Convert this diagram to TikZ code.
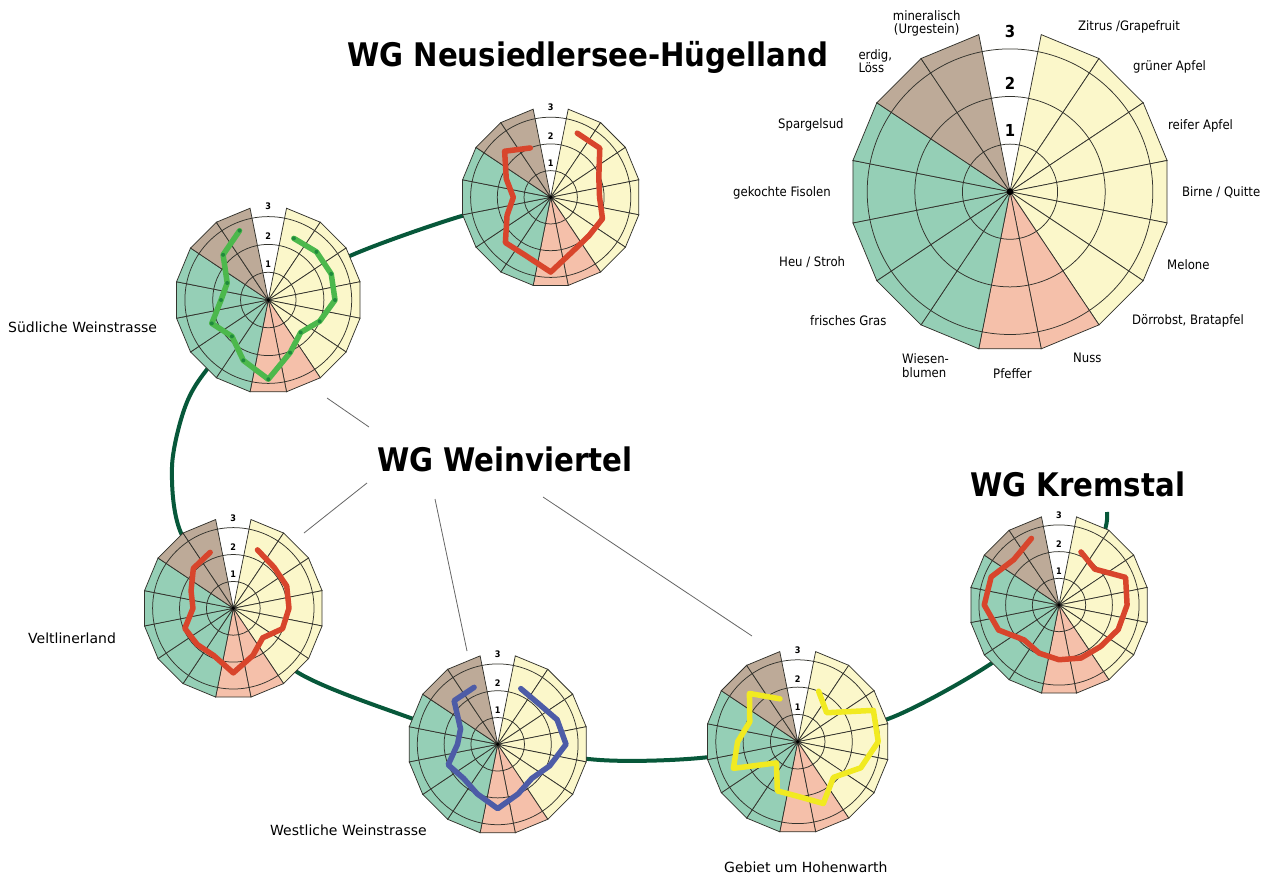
\documentclass[tikz,border=0pt]{standalone}
\usepackage{fontspec}
\setmainfont{DejaVu Sans}
\newfontfamily\condfont{DejaVu Sans Condensed}
\definecolor{cyel}{HTML}{FBF7CA}
\definecolor{cpink}{HTML}{F5C0AA}
\definecolor{cgreen}{HTML}{95CFB6}
\definecolor{cbrown}{HTML}{BDAA98}
\definecolor{gridc}{HTML}{33332D}
\definecolor{curvec}{HTML}{07583A}
\definecolor{pred}{HTML}{D8452C}
\definecolor{pgreen}{HTML}{4CB84C}
\definecolor{pdot}{HTML}{1F8A3C}
\definecolor{pblue}{HTML}{4D5CA7}
\definecolor{pyellow}{HTML}{F1EA21}
\tikzset{
  gridline/.style={draw=gridc, line width=0.75pt},
  digit/.style={inner sep=0pt, text=black},
  profile/.style={line width=5.5pt, line join=round, line cap=round},
  connector/.style={draw=curvec, line width=4pt},
  leader/.style={draw=black!60, line width=0.8pt},
  title/.style={inner sep=0pt, anchor=base west, font=\condfont\bfseries\fontsize{32.5}{36}\selectfont},
  region/.style={inner sep=0pt, anchor=base west, font=\fontsize{14}{16}\selectfont},
  aroma/.style={inner sep=0pt, anchor=base west, font=\condfont\fontsize{13}{15}\selectfont},
}
\newcommand\radarbase[3]{%
  \begin{scope}[shift={(#1)}, x=#2pt, y=#2pt]
    \foreach \k in {1,...,15}{%
      \ifnum\k<7 \def\sc{cyel}\else\ifnum\k<9 \def\sc{cpink}\else\ifnum\k<14 \def\sc{cgreen}\else\def\sc{cbrown}\fi\fi\fi
      \filldraw[gridline, fill=\sc] (0,0) -- ({101.25-22.5*\k}:3.365) -- ({78.75-22.5*\k}:3.365) -- cycle;
    }
    \foreach \r in {1,2,3}{\draw[gridline] (0,0) circle[radius=\r];}
    \fill[black] (0,0) circle[radius=0.07];
    \foreach \r/\t in {1.28/1,2.28/2,3.36/3}{%
      \node[digit, font=\condfont\bfseries\fontsize{#3}{#3}\selectfont] (#1d\t) at (90:\r) {\t};}
  \end{scope}}
\newcommand\radarline[4]{%
  \begin{scope}[shift={(#1)}, x=#2pt, y=#2pt]
    \foreach \v [count=\k] in {#3}{\coordinate (p\k) at ({90-22.5*\k}:\v);}
    \draw[profile, #4] (p1) \foreach \k in {2,...,15}{ -- (p\k)};
  \end{scope}}
\begin{document}
\begin{tikzpicture}[x=1pt, y=-1pt]
\fill[white] (0,0) rectangle (1275,878);
\useasboundingbox (0,0) rectangle (1275,878);

% chart centres
\coordinate (neu) at (550.7,197.3);
\coordinate (sud) at (268.3,300);
\coordinate (vel) at (233.3,608.3);
\coordinate (wes) at (497.7,744.3);
\coordinate (hoh) at (797.7,741.7);
\coordinate (kre) at (1059,605);
\coordinate (big) at (1010,191.7);

% waypoints of the connecting curve
\coordinate (c1) at (465,215);
\coordinate (c2) at (352,255);
\coordinate (c3) at (205,372);
\coordinate (c4) at (184,410);
\coordinate (c5) at (172,467);
\coordinate (c6) at (181,533);
\coordinate (c7) at (297,672);
\coordinate (c8) at (405,716);
\coordinate (c9) at (600,760);
\coordinate (c10) at (700,758);
\coordinate (c11) at (893,717);
\coordinate (c12) at (992,663);
\coordinate (c13) at (1102,537);
\coordinate (cend) at (1107,512);

\draw[connector] plot[smooth, tension=0.5] coordinates {(neu) (c1) (c2) (sud) (c3) (c4) (c5) (c6) (vel) (c7) (c8) (wes) (c9) (c10) (hoh) (c11) (c12) (kre) (c13) (cend)};

% leader lines of WG Weinviertel
\coordinate (l1a) at (369,427); \coordinate (l1b) at (327,398);
\coordinate (l2a) at (367,483); \coordinate (l2b) at (304,533);
\coordinate (l3a) at (435,499); \coordinate (l3b) at (467,651);
\coordinate (l4a) at (543,497); \coordinate (l4b) at (752,636);
\draw[leader] (l1a) -- (l1b);
\draw[leader] (l2a) -- (l2b);
\draw[leader] (l3a) -- (l3b);
\draw[leader] (l4a) -- (l4b);

% charts
\radarbase{big}{47.6}{16.5}
\radarbase{neu}{26.7}{9}
\radarline{neu}{26.7}{2.6,2.6,1.95,1.83,2.1,2.03,2.18,2.8,2.38,2.4,1.77,1.4,1.8,2.44,2.0}{pred}
\radarbase{sud}{27.8}{9}
\radarline{sud}{27.8}{2.4,2.45,2.45,2.4,2.0,1.65,2.05,2.85,2.35,1.85,2.2,1.7,1.6,2.3,2.7}{pgreen}
\foreach \k in {1,...,15}{\fill[pdot] (p\k) circle[radius=2pt];}
\radarbase{vel}{26.9}{9}
\radarline{vel}{26.9}{2.35,2.15,2.15,2.07,1.98,1.55,1.9,2.4,1.9,1.9,1.95,1.5,1.7,2.1,2.25}{pred}
\radarbase{wes}{26.8}{9}
\radarline{wes}{26.8}{2.25,2.15,2.4,2.55,2.1,1.8,2.0,2.4,2.0,1.8,2.0,1.5,1.5,2.3,2.3}{pblue}
\radarbase{hoh}{27.3}{9}
\radarline{hoh}{27.3}{2.0,1.5,3.0,2.95,2.5,1.85,2.45,2.0,1.95,1.1,2.55,2.2,1.9,2.5,1.7}{pyellow}
\radarbase{kre}{26.7}{9}
\radarline{kre}{26.7}{2.15,1.9,2.7,2.55,2.4,2.2,2.15,2.05,1.95,1.85,2.45,2.8,2.75,2.4,2.7}{pred}

% titles
\node[title] (tneu) at (347,66.7) {WG Neusiedlersee-Hügelland};
\node[title] (twv) at (377,471.7) {WG Weinviertel};
\node[title] (tkre) at (970,496) {WG Kremstal};

% region labels
\node[region] (rsud) at (8,332) {Südliche Weinstrasse};
\node[region] (rvel) at (28,643) {Veltlinerland};
\node[region] (rwes) at (270,835) {Westliche Weinstrasse};
\node[region] (rhoh) at (724,872) {Gebiet um Hohenwarth};

% aroma labels of the key chart
\node[aroma, anchor=base] (a1) at (926.7,20.7) {mineralisch};
\node[aroma, anchor=base] (a2) at (926.7,34) {(Urgestein)};
\node[aroma] (a3) at (858.3,59.3) {erdig,};
\node[aroma] (a4) at (858.3,72.7) {Löss};
\node[aroma] (a5) at (1078,30.7) {Zitrus /Grapefruit};
\node[aroma] (a6) at (1133,70.7) {grüner Apfel};
\node[aroma] (a7) at (1168,129.3) {reifer Apfel};
\node[aroma] (a8) at (1182,196) {Birne / Quitte};
\node[aroma] (a9) at (1167,269.3) {Melone};
\node[aroma] (a10) at (1132,324) {Dörrobst, Bratapfel};
\node[aroma] (a11) at (1073,362.7) {Nuss};
\node[aroma] (a12) at (993,378.3) {Pfeffer};
\node[aroma] (a13) at (902,363.3) {Wiesen-};
\node[aroma] (a14) at (902,377.7) {blumen};
\node[aroma] (a15) at (810,325) {frisches Gras};
\node[aroma] (a16) at (779,266.7) {Heu / Stroh};
\node[aroma] (a17) at (733,196) {gekochte Fisolen};
\node[aroma] (a18) at (778,128.3) {Spargelsud};
\end{tikzpicture}
\end{document}
